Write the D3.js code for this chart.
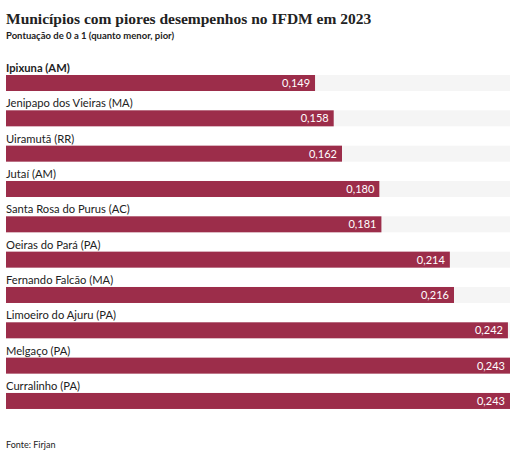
<!DOCTYPE html>
<html>
  <head>
    <meta charset="utf-8">
    <script src="https://cdnjs.cloudflare.com/ajax/libs/d3/7.8.5/d3.min.js"></script>
    <style>
      body { margin: 0; background: #fff; }
    </style>
  </head>
  <body>
    <div id="vis"></div>
    <script type="text/javascript">

        // dados do gráfico
        const municipios = [
            "Ipixuna (AM)", "Jenipapo dos Vieiras (MA)", "Uiramutã (RR)", "Jutaí (AM)",
            "Santa Rosa do Purus (AC)", "Oeiras do Pará (PA)", "Fernando Falcão (MA)",
            "Limoeiro do Ajuru (PA)", "Melgaço (PA)", "Curralinho (PA)"
        ];
        const ifdm = [0.149, 0.158, 0.162, 0.180, 0.181, 0.214, 0.216, 0.242, 0.243, 0.243];

        const titulo = "Municípios com piores desempenhos no IFDM em 2023";
        const subtitulo = "Pontuação de 0 a 1 (quanto menor, pior)";
        const fonte = "Fonte: Firjan";

        const width = 531, height = 458;
        const rowH = 35.33;

        const svg = d3.select("#vis")
            .append("svg")
            .attr("width", width)
            .attr("height", height);

        const x = d3.scaleLinear()
            .domain([0, d3.max(ifdm)])
            .range([6, 510]);

        const y = d3.scaleBand()
            .domain(municipios)
            .range([60, 60 + rowH * municipios.length])
            .paddingInner(0);

        const fmt = v => d3.format(".3f")(v).replace(".", ",");

        svg.append("text")
            .attr("x", 6).attr("y", 24)
            .style("font-family", "'Liberation Serif', serif")
            .style("font-weight", "bold")
            .style("font-size", "15.5px")
            .style("fill", "#222")
            .text(titulo);

        svg.append("text")
            .attr("x", 6).attr("y", 39)
            .style("font-family", "Lato, sans-serif")
            .style("font-weight", "bold")
            .style("font-size", "9.5px")
            .style("fill", "#222")
            .text(subtitulo);

        const rows = svg.selectAll("g.row")
            .data(municipios)
            .enter()
            .append("g")
            .attr("class", "row")
            .attr("transform", d => `translate(0,${y(d)})`);

        // trilho cinza
        rows.append("rect")
            .attr("x", x(0))
            .attr("y", 15)
            .attr("width", x.range()[1] - x(0))
            .attr("height", 16)
            .attr("fill", "#f5f5f5");

        rows.append("rect")
            .attr("x", x(0))
            .attr("y", 15)
            .attr("width", (d, i) => x(ifdm[i]) - x(0))
            .attr("height", 16)
            .attr("fill", "#9c2d4a");

        rows.append("text")
            .attr("x", 6)
            .attr("y", 12)
            .style("font-family", "Lato, sans-serif")
            .style("font-size", "11.2px")
            .style("font-weight", (d, i) => i === 0 ? "bold" : "normal")
            .style("fill", "#222")
            .text(d => d);

        rows.append("text")
            .attr("x", (d, i) => x(ifdm[i]) - 5)
            .attr("y", 27)
            .attr("text-anchor", "end")
            .style("font-family", "Lato, sans-serif")
            .style("font-size", "11px")
            .style("fill", "#fff")
            .text((d, i) => fmt(ifdm[i]));

        svg.append("text")
            .attr("x", 6).attr("y", 448)
            .style("font-family", "Lato, sans-serif")
            .style("font-size", "9px")
            .style("fill", "#222")
            .text(fonte);

    </script>
  </body>
</html>
